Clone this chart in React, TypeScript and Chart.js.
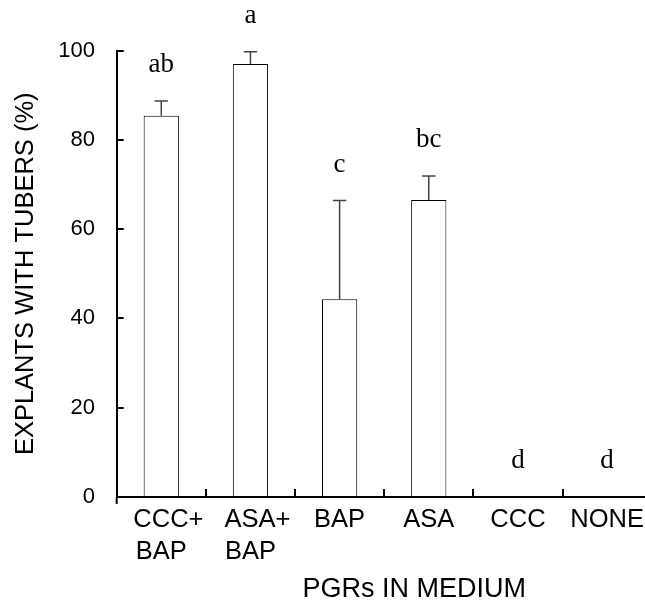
import React, { useEffect, useRef } from "react";
import { Chart, registerables } from "chart.js";

Chart.register(...registerables);

// ---- data ----
const categories: (string | string[])[] = [
  ["  CCC+", "BAP"],
  ["  ASA+", "BAP"],
  "BAP",
  "ASA",
  "CCC",
  "NONE",
];
const means = [85.4, 97.0, 44.3, 66.5, 0, 0];
const errors = [3.3, 2.7, 22.1, 5.4, 0, 0];
const letters = ["ab", "a", "c", "bc", "d", "d"];
const yMin = 0;
const yMax = 100;
const yStep = 20;
const yTitle = "EXPLANTS WITH TUBERS (%)";
const xTitle = "PGRs IN MEDIUM";

const SANS = "Arial, 'Liberation Sans', sans-serif";
const SERIF = "'Times New Roman', 'Liberation Serif', serif";

const annotatePlugin = {
  id: "errorsAndLetters",
  afterDatasetsDraw(chart: any) {
    const ctx = chart.ctx as CanvasRenderingContext2D;
    const meta = chart.getDatasetMeta(0);
    const ys = chart.scales.y;
    const xs = chart.scales.x;
    ctx.save();
    meta.data.forEach((bar: any, i: number) => {
      const x = bar.x;
      const top = ys.getPixelForValue(means[i] + errors[i]);
      if (errors[i] > 0) {
        const base = ys.getPixelForValue(means[i]);
        ctx.strokeStyle = "#444";
        ctx.lineWidth = 1.5;
        ctx.beginPath();
        ctx.moveTo(x, base);
        ctx.lineTo(x, top);
        ctx.moveTo(x - 6.7, top);
        ctx.lineTo(x + 6.7, top);
        ctx.stroke();
      }
      ctx.fillStyle = "#000";
      ctx.font = `27px ${SERIF}`;
      ctx.textAlign = "center";
      ctx.textBaseline = "alphabetic";
      ctx.fillText(letters[i], x, top - 29);
    });
    // small extension of the y axis below the origin
    ctx.strokeStyle = "#000";
    ctx.lineWidth = 2;
    ctx.beginPath();
    ctx.moveTo(xs.left, ys.bottom);
    ctx.lineTo(xs.left, ys.bottom + 7);
    ctx.stroke();
    ctx.restore();
  },
};

export default function App() {
  const ref = useRef<HTMLCanvasElement | null>(null);

  useEffect(() => {
    if (!ref.current) return;
    const chart = new Chart(ref.current, {
      type: "bar",
      data: {
        labels: categories,
        datasets: [
          {
            data: means,
            backgroundColor: "#ffffff",
            borderColor: "#000000",
            borderWidth: 1,
            categoryPercentage: 1,
            barPercentage: 0.395,
          },
        ],
      },
      options: {
        responsive: false,
        animation: false,
        devicePixelRatio: 1,
        layout: { padding: { top: 50.5, right: 7.5, left: 0, bottom: 0 } },
        plugins: {
          legend: { display: false },
          tooltip: { enabled: false },
        },
        scales: {
          x: {
            type: "category",
            offset: true,
            grid: {
              display: true,
              offset: true,
              drawOnChartArea: false,
              drawTicks: true,
              tickLength: -8,
              color: "#000",
              lineWidth: 2,
            },
            border: { display: true, color: "#000", width: 2, z: 1 },
            ticks: {
              color: "#000",
              font: { family: SANS, size: 25.5, lineHeight: 1.243 },
              padding: 15.45,
              maxRotation: 0,
              minRotation: 0,
              autoSkip: false,
            },
            title: {
              display: true,
              text: "        " + xTitle,
              color: "#000",
              font: { family: SANS, size: 27, lineHeight: 1.2 },
              padding: { top: 0, bottom: 3.8 },
            },
            afterFit: (scale: any) => {
              scale.height = 113;
            },
          },
          y: {
            min: yMin,
            max: yMax,
            grid: {
              display: true,
              drawOnChartArea: false,
              drawTicks: true,
              tickLength: -7,
              color: "#000",
              lineWidth: 2,
            },
            border: { display: true, color: "#000", width: 2, z: 1 },
            ticks: {
              stepSize: yStep,
              color: "#000",
              font: { family: SANS, size: 22 },
              padding: 28.7,
            },
            title: {
              display: true,
              text: yTitle,
              color: "#000",
              font: { family: SANS, size: 25.5, lineHeight: 1.2 },
              padding: { top: 10.5, bottom: 0 },
            },
            afterFit: (scale: any) => {
              scale.width = 116.7;
            },
          },
        },
      },
      plugins: [annotatePlugin],
    });
    return () => chart.destroy();
  }, []);

  return (
    <div
      style={{
        position: "fixed",
        left: 0,
        top: 0,
        width: 645,
        height: 600,
        overflow: "hidden",
        background: "#fff",
      }}
    >
      <canvas ref={ref} width={660} height={610} style={{ display: "block" }} />
    </div>
  );
}
